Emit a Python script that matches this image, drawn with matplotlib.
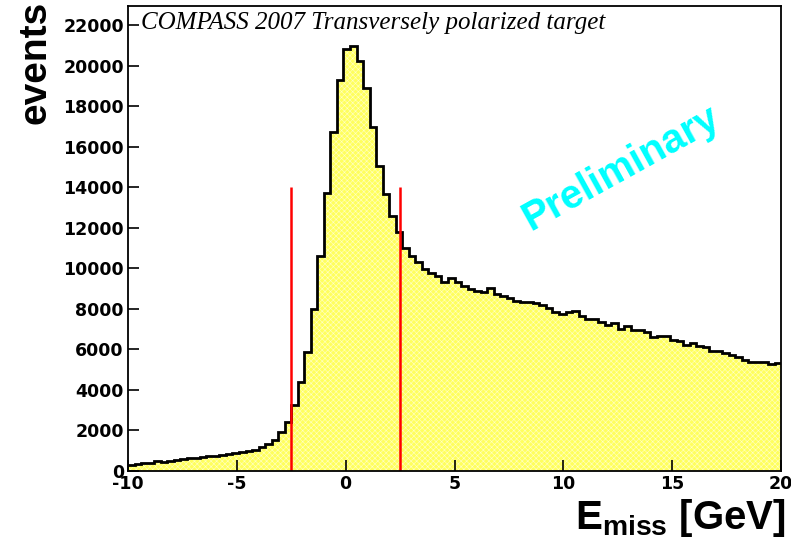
import matplotlib
matplotlib.use("Agg")
import matplotlib.pyplot as plt
import numpy as np

plt.rcParams["mathtext.fontset"] = "custom"
plt.rcParams["mathtext.bf"] = "Liberation Sans:bold"
plt.rcParams["mathtext.rm"] = "Liberation Sans:bold"
plt.rcParams["axes.unicode_minus"] = False
plt.rcParams["hatch.linewidth"] = 0.4

# 100 bins of 0.3 GeV from -10 to 20 GeV
x_low, x_high, n_bins = -10.0, 20.0, 100
events = [
    300, 360, 380, 400, 480, 440, 500, 560, 600, 620,
    640, 680, 720, 760, 800, 850, 900, 960, 1000, 1050,
    1180, 1320, 1540, 1900, 2430, 3280, 4370, 5850, 7990, 10600,
    13740, 16710, 19290, 20830, 20980, 20240, 18900, 16960, 15030, 13690,
    12600, 11800, 11010, 10610, 10320, 9970, 9770, 9620, 9320, 9520,
    9320, 9130, 8980, 8880, 8830, 9030, 8730, 8630, 8530, 8380,
    8330, 8330, 8280, 8180, 8030, 7840, 7740, 7840, 7890, 7640,
    7490, 7490, 7340, 7190, 7290, 6990, 7140, 6940, 6940, 6850,
    6620, 6650, 6650, 6450, 6400, 6200, 6300, 6150, 6100, 5900,
    5900, 5800, 5700, 5650, 5500, 5400, 5400, 5400, 5260, 5350,
]
cut_positions = [-2.5, 2.5]
cut_height = 14000
x_ticks = [-10, -5, 0, 5, 10, 15, 20]
y_ticks = list(range(0, 22001, 2000))

edges = np.linspace(x_low, x_high, n_bins + 1)

fig = plt.figure(figsize=(7.91, 5.46), dpi=100)
ax = fig.add_axes([0.1618, 0.1374, 0.8256, 0.8516])

# ヒストグラム (黄色の塗り + 黒い輪郭)
ax.stairs(events, edges, fill=True, color="#ffff5e", linewidth=0)
ax.stairs(events, edges, fill=True, facecolor="none", edgecolor="#ffffc8",
          hatch="xxxxxx", linewidth=0)
ax.stairs(events, edges, baseline=None, color="black", linewidth=2.0)

# カット位置の赤線
ax.vlines(cut_positions, 0, cut_height, color="red", linewidth=1.8)

ax.set_xlim(x_low, x_high)
ax.set_ylim(0, 22950)
ax.set_xticks(x_ticks)
ax.set_yticks(y_ticks)
ax.tick_params(direction="in", length=8, width=1.2, pad=3)
for lab in ax.get_xticklabels() + ax.get_yticklabels():
    lab.set_fontfamily("DejaVu Sans")
    lab.set_fontweight("bold")
    lab.set_fontsize(12.5)
for sp in ax.spines.values():
    sp.set_linewidth(1.3)

ax.text(0.02, 0.988, "COMPASS 2007 Transversely polarized target",
        transform=ax.transAxes, ha="left", va="top",
        family="Liberation Serif", style="italic", fontsize=18)
ax.text(0.755, 0.65, "Preliminary", transform=ax.transAxes,
        ha="center", va="center", rotation=29, color="#00ffff",
        family="Liberation Sans", weight="bold", fontsize=29)

fig.text(0.045, 0.998, "events", rotation=90, ha="center", va="top",
         family="Liberation Sans", weight="bold", fontsize=28)
fig.text(0.993, 0.012, r"E$_{\mathbf{miss}}$ [GeV]", ha="right", va="bottom",
         family="Liberation Sans", weight="bold", fontsize=29)

fig.savefig("out.png", dpi=100)
